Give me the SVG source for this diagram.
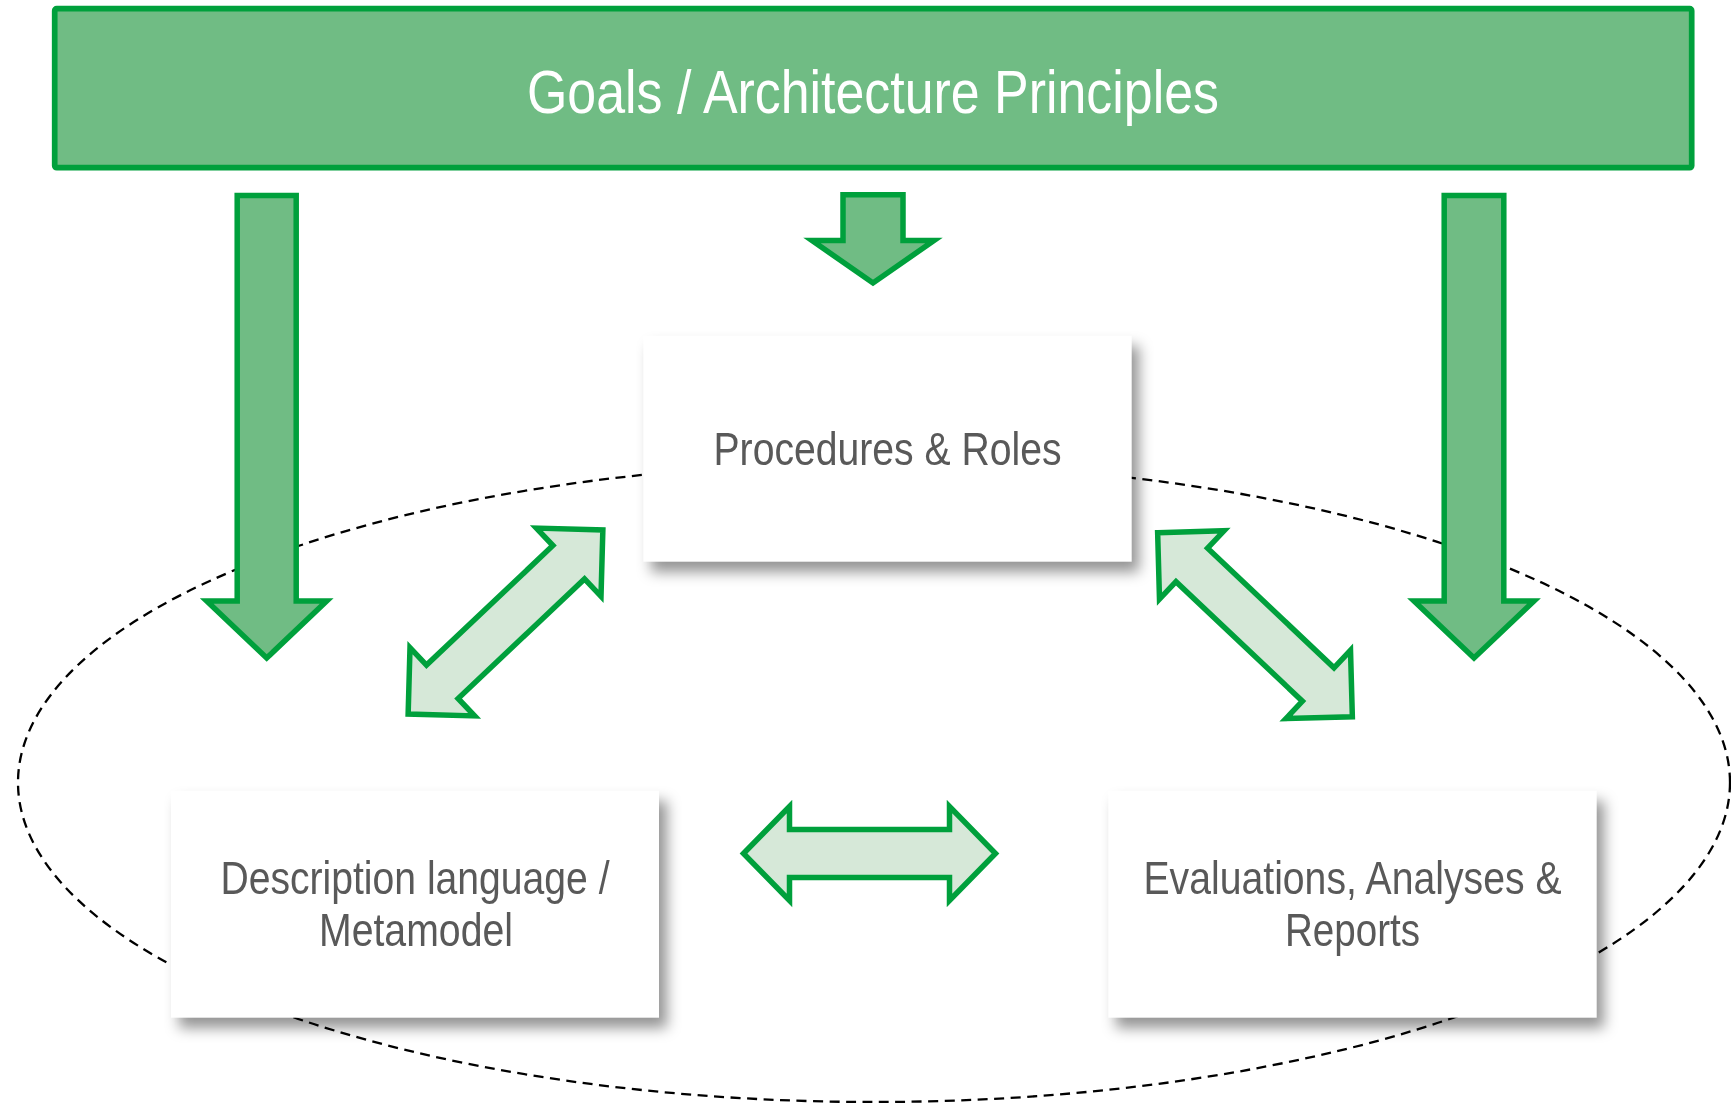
<svg xmlns="http://www.w3.org/2000/svg" width="1731" height="1103" viewBox="0 0 1731 1103">
<defs>
<style>
.bar{fill:#70BC84;stroke:#00A03C;stroke-width:5.7}
.box{fill:#ffffff}
.shadow{fill:#000000;opacity:0.42}
.down{fill:#70BC84;stroke:#00A03C;stroke-width:5.5;stroke-linejoin:miter}
.dbl{fill:#D6E8D8;stroke:#00A03C;stroke-width:5.5;stroke-linejoin:miter}
.orbit{fill:none;stroke:#000000;stroke-width:2.3;stroke-dasharray:10 6.5}
.lbl{font-family:"Liberation Sans Narrow","Arial Narrow","Liberation Sans",Arial,sans-serif;fill:#595959;font-size:47px;text-anchor:middle}
.title{font-family:"Liberation Sans Narrow","Arial Narrow","Liberation Sans",Arial,sans-serif;fill:#ffffff;font-size:62px;text-anchor:middle}
</style>
<filter id="blur" x="-20%" y="-30%" width="140%" height="160%">
<feGaussianBlur stdDeviation="7"/>
</filter>
</defs>
<rect width="1731" height="1103" fill="#ffffff"/>

<g id="shadows" filter="url(#blur)">
<rect class="shadow" x="651" y="346" width="488" height="226"/>
<rect class="shadow" x="179" y="801" width="488" height="227"/>
<rect class="shadow" x="1116" y="801" width="488" height="227"/>
</g>

<ellipse id="scope" class="orbit" cx="874" cy="782.5" rx="856" ry="319.5"/>

<g id="goals">
<rect class="bar" x="54.7" y="8.7" width="1637" height="159" rx="2"/>
<text class="title" x="873" y="112.7" textLength="692" lengthAdjust="spacingAndGlyphs">Goals / Architecture Principles</text>
</g>

<g id="procedures">
<rect class="box" x="643.3" y="335.7" width="488.4" height="226"/>
<text class="lbl" x="887.5" y="465" textLength="348" lengthAdjust="spacingAndGlyphs">Procedures &amp; Roles</text>
</g>

<g id="description">
<rect class="box" x="171" y="790.7" width="488" height="227"/>
<text class="lbl" x="415" y="894" textLength="389" lengthAdjust="spacingAndGlyphs">Description language /</text>
<text class="lbl" x="416" y="946" textLength="194" lengthAdjust="spacingAndGlyphs">Metamodel</text>
</g>

<g id="evaluations">
<rect class="box" x="1108.3" y="790.7" width="488.4" height="227"/>
<text class="lbl" x="1352.5" y="894" textLength="418" lengthAdjust="spacingAndGlyphs">Evaluations, Analyses &amp;</text>
<text class="lbl" x="1352.5" y="945.7" textLength="135" lengthAdjust="spacingAndGlyphs">Reports</text>
</g>

<g id="connectors">
<polygon class="down" points="237.2,195.5 296.2,195.5 296.2,601 326.7,601 266.7,658 206.7,601 237.2,601"/>
<polygon class="down" points="843,194.8 903,194.8 903,240.5 934,240.5 873,283 812,240.5 843,240.5"/>
<polygon class="down" points="1444.2,195.5 1503.8,195.5 1503.8,601 1534,601 1474,658 1414,601 1444.2,601"/>
<polygon class="dbl" transform="translate(505.5 622) rotate(-43.4)" points="-134,0 -87,-47 -87,-23 87,-23 87,-47 134,0 87,47 87,23 -87,23 -87,47"/>
<polygon class="dbl" transform="translate(1255 624.7) rotate(43.4)" points="-134,0 -87,-47 -87,-23 87,-23 87,-47 134,0 87,47 87,23 -87,23 -87,47"/>
<polygon class="dbl" transform="translate(869.5 853.5)" points="-126,0 -80,-47 -80,-24 80,-24 80,-47 126,0 80,47 80,24 -80,24 -80,47"/>
</g>
</svg>
